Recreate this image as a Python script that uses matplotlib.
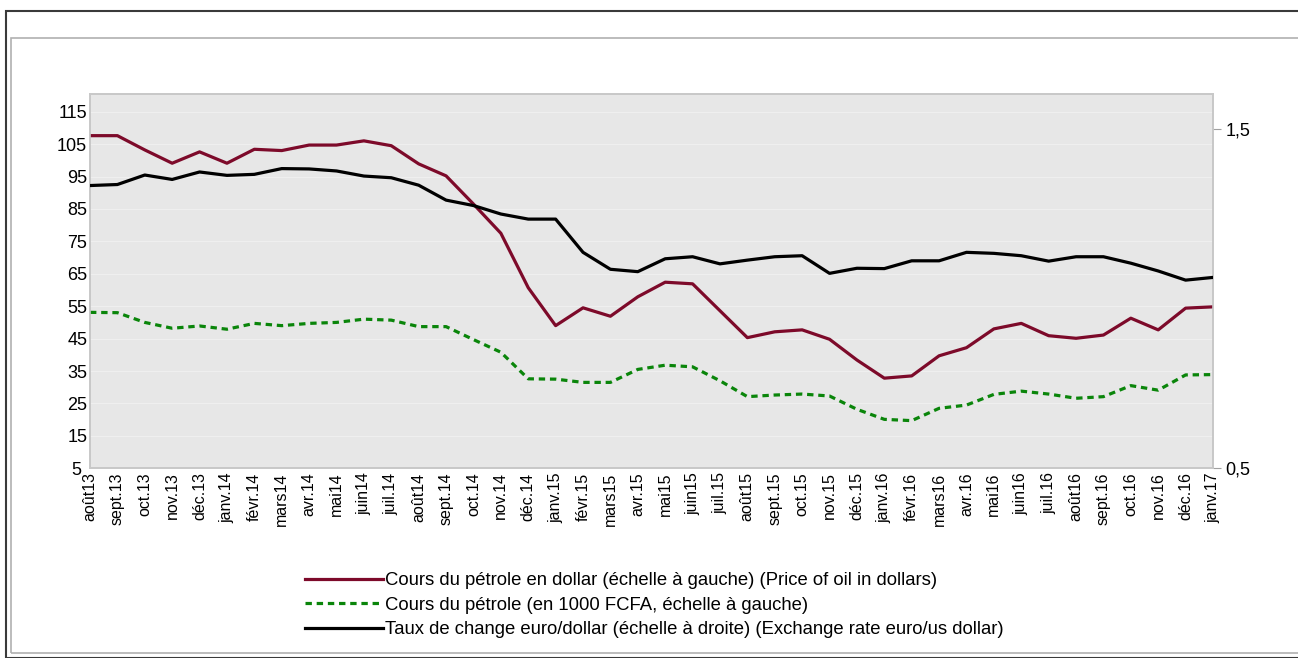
import matplotlib
matplotlib.use("Agg")
import matplotlib.pyplot as plt
import matplotlib.transforms as mtransforms
from matplotlib.lines import Line2D
from matplotlib.patches import Rectangle

plt.rcParams['font.family'] = ['Liberation Sans', 'DejaVu Sans']

# months (Aug 2013 - Jan 2017)
months = ["août13", "sept.13", "oct.13", "nov.13", "déc.13",
          "janv.14", "févr.14", "mars14", "avr.14", "mai14", "juin14", "juil.14",
          "août14", "sept.14", "oct.14", "nov.14", "déc.14",
          "janv.15", "févr.15", "mars15", "avr.15", "mai15", "juin15", "juil.15",
          "août15", "sept.15", "oct.15", "nov.15", "déc.15",
          "janv.16", "févr.16", "mars16", "avr.16", "mai16", "juin16", "juil.16",
          "août16", "sept.16", "oct.16", "nov.16", "déc.16", "janv.17"]

# oil price in dollars (left scale)
oil_usd = [107.6, 107.6, 103.2, 99.1, 102.6, 99.1, 103.4, 103.0, 104.7, 104.7, 106.0, 104.5,
           98.9, 95.2, 86.5, 77.5, 60.7, 49.0, 54.5, 51.9, 57.9, 62.4, 61.9, 53.6,
           45.3, 47.1, 47.7, 44.8, 38.4, 32.8, 33.5, 39.7, 42.2, 48.0, 49.7, 45.9,
           45.1, 46.1, 51.3, 47.7, 54.4, 54.8]

# oil price in 1000 FCFA (left scale)
oil_fcfa = [53.1, 53.0, 50.0, 48.2, 48.9, 47.9, 49.7, 49.0, 49.7, 50.0, 51.0, 50.7,
            48.7, 48.7, 44.7, 40.8, 32.6, 32.5, 31.5, 31.5, 35.5, 36.8, 36.3, 32.0,
            27.1, 27.6, 27.9, 27.3, 23.2, 20.1, 19.7, 23.5, 24.5, 27.8, 28.8, 27.9,
            26.6, 27.1, 30.5, 29.1, 33.8, 33.9]

# euro/dollar exchange rate (right scale)
eur_usd = [1.334, 1.337, 1.365, 1.352, 1.374, 1.364, 1.367, 1.384, 1.383, 1.377, 1.362, 1.357,
           1.335, 1.291, 1.275, 1.250, 1.235, 1.235, 1.137, 1.087, 1.080, 1.118, 1.124, 1.103,
           1.114, 1.124, 1.127, 1.075, 1.090, 1.089, 1.112, 1.112, 1.137, 1.134, 1.127, 1.111,
           1.124, 1.124, 1.105, 1.082, 1.055, 1.063]

left_ticks = [5, 15, 25, 35, 45, 55, 65, 75, 85, 95, 105, 115]
right_ticks = [0.5, 1.5]
right_labels = ["0,5", "1,5"]

red = "#7d0a2a"
green = "#0a850a"

W, H = 1298, 658
fig = plt.figure(figsize=(W / 100, H / 100), dpi=100)

# frames around the chart
fig.patches.append(Rectangle((6 / W, 0), 1, 1 - 11 / H, transform=fig.transFigure,
                             fill=False, edgecolor="#3a3a3a", lw=1.5))
fig.patches.append(Rectangle((11 / W, 1 - 653 / H), 1, (653 - 38) / H, transform=fig.transFigure,
                             fill=False, edgecolor="#b0b0b0", lw=1.2))

ax = fig.add_axes([90 / W, 1 - 468.3 / H, (1213 - 90) / W, (468.3 - 94) / H])
ax.set_facecolor("#e7e7e7")
x = list(range(len(months)))

ax.plot(x, oil_usd, color=red, lw=2.3, solid_joinstyle="round", zorder=3)
ax.plot(x, oil_fcfa, color=green, lw=2.3, linestyle=(0, (2, 1.5)), zorder=3)

ax.set_xlim(0, len(months) - 1)
ax.set_ylim(5, 120.45)
ax.set_yticks(left_ticks)
ax.set_yticklabels([str(t) for t in left_ticks], fontsize=13)
ax.tick_params(axis="y", length=0, pad=2)
ax.set_xticks(x)
ax.set_xticklabels(months, rotation=90, fontsize=11.5)
ax.tick_params(axis="x", length=0, pad=3)
ax.grid(axis="y", color="#efefef", lw=0.8)
ax.set_axisbelow(True)
for s in ax.spines.values():
    s.set_color("#c8c8c8")
    s.set_linewidth(1.2)

# nudge the bottom "5" left so it sits beside the first month label
lab5 = ax.yaxis.get_major_ticks()[0].label1
lab5.set_transform(lab5.get_transform() +
                   mtransforms.ScaledTranslation(-6 / 100, 0, fig.dpi_scale_trans))

ax2 = ax.twinx()
ax2.plot(x, eur_usd, color="black", lw=2.3, zorder=3)
ax2.set_ylim(0.5, 1.604)
ax2.set_yticks(right_ticks)
ax2.set_yticklabels(right_labels, fontsize=13)
ax2.tick_params(axis="y", length=6, color="#a0a0a0", pad=3)
for s in ax2.spines.values():
    s.set_color("#c8c8c8")
    s.set_linewidth(1.2)

handles = [Line2D([], [], color=red, lw=2.3),
           Line2D([], [], color=green, lw=2.3, linestyle=(0, (2, 1.5))),
           Line2D([], [], color="black", lw=2.3)]
labels = ["Cours du pétrole en dollar (échelle à gauche) (Price of oil in dollars)",
          "Cours du pétrole (en 1000 FCFA, échelle à gauche)",
          "Taux de change euro/dollar (échelle à droite) (Exchange rate euro/us dollar)"]
fig.legend(handles, labels, loc="upper left", bbox_to_anchor=(298 / W, 1 - 565 / H),
           frameon=False, fontsize=13.3, handlelength=4.2, handletextpad=0.1,
           labelspacing=0.4, borderaxespad=0)

fig.savefig("out.png", dpi=100)
